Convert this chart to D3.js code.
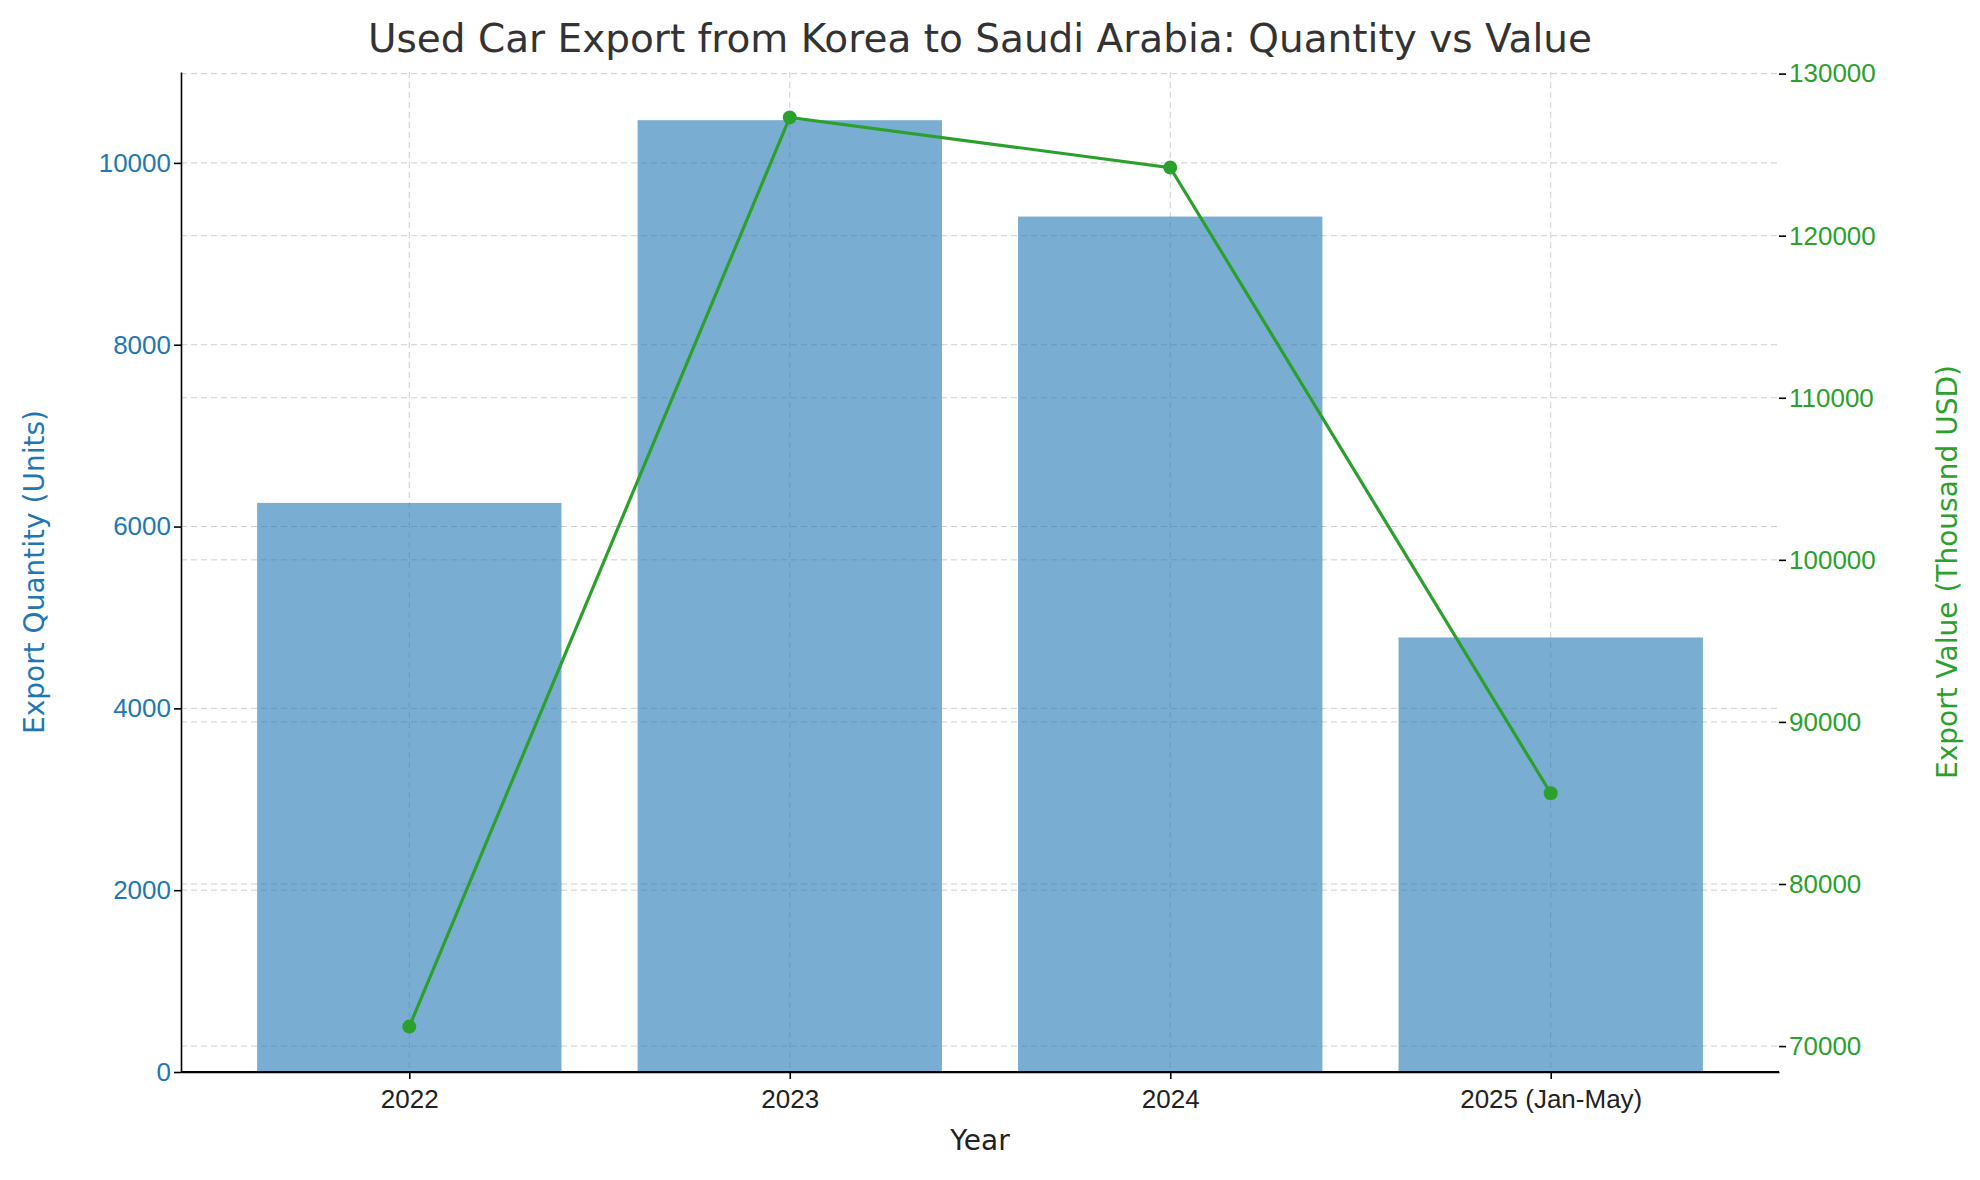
<!DOCTYPE html>
<html><head><meta charset="utf-8">
<script src="https://cdn.jsdelivr.net/npm/d3@7"></script>
<style>body{margin:0;background:#fff}svg{font-family:"DejaVu Sans",sans-serif}</style>
</head><body><svg id="c" width="1980" height="1180"></svg>
<script>
const categories = ["2022","2023","2024","2025 (Jan-May)"];
const quantity = [6260, 10470, 9410, 4780];
const value = [71200, 127300, 124200, 85600];
const leftTicks = [0,2000,4000,6000,8000,10000];
const rightTicks = [70000,80000,90000,100000,110000,120000,130000];

const svg = d3.select("#c");
const L=181, R=1779, T=72, B=1072;
const x = d3.scaleLinear().domain([-0.6,3.6]).range([L,R]);
const yL = d3.scaleLinear().domain([0,11000]).range([B,T]);
const yR = d3.scaleLinear().domain([68400,130100]).range([B,T]);
const blue="#1f77b4", green="#2ca02c";

// grids
const g = svg.append("g").attr("stroke","#b0b0b0").attr("stroke-dasharray","6,4").attr("stroke-width",1).attr("opacity",0.6);
categories.forEach((c,i)=>g.append("line").attr("x1",x(i)).attr("x2",x(i)).attr("y1",T).attr("y2",B));
leftTicks.forEach(t=>g.append("line").attr("x1",L).attr("x2",R).attr("y1",yL(t)).attr("y2",yL(t)));
rightTicks.forEach(t=>g.append("line").attr("x1",L).attr("x2",R).attr("y1",yR(t)).attr("y2",yR(t)));

// bars
svg.append("g").selectAll("rect").data(quantity).join("rect")
 .attr("x",(d,i)=>x(i-0.4)).attr("width",x(0.4)-x(-0.4))
 .attr("y",d=>yL(d)).attr("height",d=>B-yL(d)).attr("fill",blue).attr("opacity",0.6);

// axes
const ax = svg.append("g").attr("transform",`translate(0,${B})`)
 .call(d3.axisBottom(x).tickValues([0,1,2,3]).tickFormat(i=>categories[i]).tickSize(7).tickSizeOuter(0));
ax.selectAll("text").attr("font-size",26).attr("fill","#222").attr("dy","1.0em");
const al = svg.append("g").attr("transform",`translate(${L},0)`)
 .call(d3.axisLeft(yL).tickValues(leftTicks).tickFormat(d3.format("d")).tickSize(7).tickSizeOuter(0));
al.selectAll("text").attr("font-size",26).attr("fill",blue);
const ar = svg.append("g").attr("transform",`translate(${R},0)`)
 .call(d3.axisRight(yR).tickValues(rightTicks).tickFormat(d3.format("d")).tickSize(7).tickSizeOuter(0));
ar.selectAll("text").attr("font-size",26).attr("fill",green);
ar.select(".domain").remove();
[ax,al].forEach(a=>a.selectAll("path,line").attr("stroke","#000").attr("stroke-width",1.6));
ar.selectAll("line").attr("stroke","#000").attr("stroke-width",1.6);
svg.append("line").attr("x1",L).attr("x2",R).attr("y1",B).attr("y2",B).attr("stroke","#000").attr("stroke-width",2);

// line
svg.append("path").datum(value).attr("fill","none").attr("stroke",green).attr("stroke-width",3.2)
 .attr("d",d3.line().x((d,i)=>x(i)).y(d=>yR(d)));
svg.append("g").selectAll("circle").data(value).join("circle")
 .attr("cx",(d,i)=>x(i)).attr("cy",d=>yR(d)).attr("r",7).attr("fill",green);

// labels
svg.append("text").attr("x",(L+R)/2).attr("y",52).attr("text-anchor","middle").attr("font-size",39).attr("fill","#333")
 .text("Used Car Export from Korea to Saudi Arabia: Quantity vs Value");
svg.append("text").attr("x",(L+R)/2).attr("y",1150).attr("text-anchor","middle").attr("font-size",28).attr("fill","#222").text("Year");
svg.append("text").attr("transform",`translate(44,${(T+B)/2}) rotate(-90)`).attr("text-anchor","middle").attr("font-size",28).attr("fill",blue).text("Export Quantity (Units)");
svg.append("text").attr("transform",`translate(1957,${(T+B)/2}) rotate(-90)`).attr("text-anchor","middle").attr("font-size",28).attr("fill",green).text("Export Value (Thousand USD)");
</script></body></html>
